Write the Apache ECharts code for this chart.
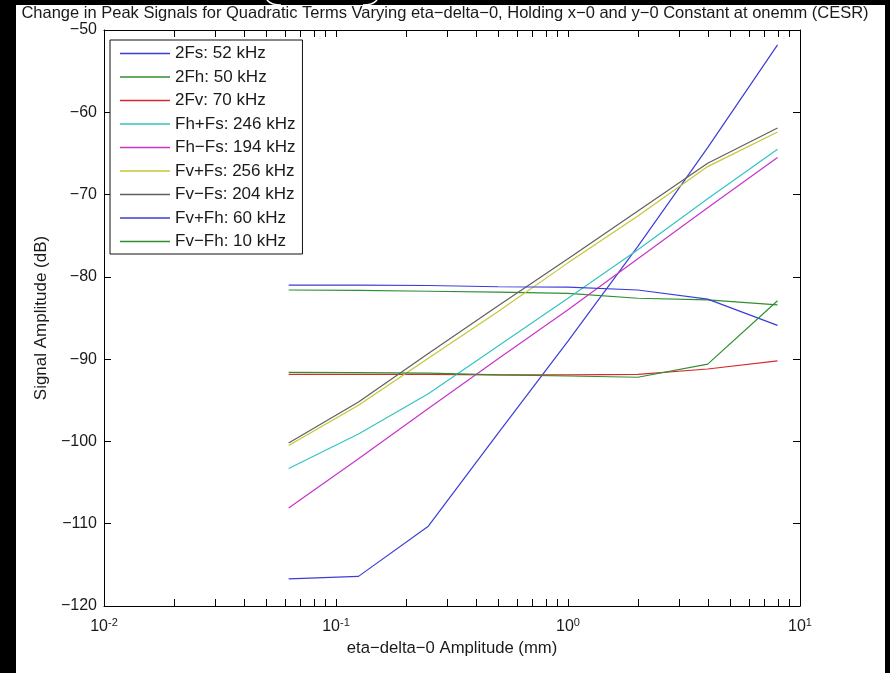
<!DOCTYPE html>
<html>
<head>
<meta charset="utf-8">
<script src="https://cdn.jsdelivr.net/npm/echarts@6/dist/echarts.min.js"></script>
<style>
html,body{margin:0;padding:0;background:#000;}
#chart{width:890px;height:673px;}
</style>
</head>
<body>
<div id="chart"></div>
<script>
// ---- data ----
const xValues = [0.0625, 0.125, 0.25, 0.5, 1, 2, 4, 8];
const seriesNames = ['2Fs: 52 kHz', '2Fh: 50 kHz', '2Fv: 70 kHz', 'Fh+Fs: 246 kHz', 'Fh\u2212Fs: 194 kHz', 'Fv+Fs: 256 kHz', 'Fv\u2212Fs: 204 kHz', 'Fv+Fh: 60 kHz', 'Fv\u2212Fh: 10 kHz'];
const s2Fs   = [-116.7, -116.4, -110.3, -99.0, -87.8, -76.3, -64.3, -51.8];
const s2Fh   = [-81.6, -81.65, -81.75, -81.85, -82.0, -82.6, -82.8, -83.4];
const s2Fv   = [-91.85, -91.85, -91.85, -91.9, -91.9, -91.85, -91.2, -90.2];
const sFhPFs = [-103.3, -99.1, -94.2, -88.4, -82.6, -76.7, -70.5, -64.5];
const sFhMFs = [-108.1, -102.1, -96.0, -89.95, -84.0, -77.8, -71.6, -65.5];
const sFvPFs = [-100.5, -95.6, -89.9, -84.2, -78.3, -72.6, -66.6, -62.4];
const sFvMFs = [-100.2, -95.2, -89.3, -83.5, -77.8, -72.0, -66.2, -61.9];
const sFvPFh = [-81.0, -81.0, -81.05, -81.2, -81.25, -81.6, -82.7, -85.9];
const sFvMFh = [-91.6, -91.65, -91.7, -91.9, -92.05, -92.2, -90.6, -82.9];
const yTicks = [-120, -110, -100, -90, -80, -70, -60, -50];
const xDecades = [0.01, 0.1, 1, 10];
const minorTickX = [0.02,0.03,0.04,0.05,0.06,0.07,0.08,0.09,0.2,0.3,0.4,0.5,0.6,0.7,0.8,0.9,2,3,4,5,6,7,8,9];

const seriesValues = [s2Fs, s2Fh, s2Fv, sFhPFs, sFhMFs, sFvPFs, sFvMFs, sFvPFh, sFvMFh];
const colors = ['#3c3cd8', '#2f8f2f', '#d82a2a', '#35c3c3', '#c834c8', '#c6c634', '#606060', '#3c3cd8', '#2f8f2f'];

const FONT = '"Liberation Sans", Arial, Helvetica, sans-serif';
const TXT = '#1a1a1a';
const GL = 104, GT = 30, GW = 696, GH = 576;
const TICK = 7;

const chart = echarts.init(document.getElementById('chart'), null, {renderer: 'canvas'});

const lineSeries = seriesNames.map((n, i) => ({
  name: n,
  type: 'line',
  xAxisIndex: 0, yAxisIndex: 0,
  data: xValues.map((x, j) => [x, seriesValues[i][j]]),
  showSymbol: false,
  symbol: 'none',
  lineStyle: {color: colors[i], width: 1.2},
  itemStyle: {color: colors[i]},
  z: 3,
  animation: false
}));

const minorTickSeries = {
  type: 'custom',
  xAxisIndex: 0, yAxisIndex: 0,
  silent: true,
  animation: false,
  z: 4,
  data: minorTickX.map(x => [x, yTicks[0]]),
  renderItem: function (params, api) {
    const x = api.value(0);
    const pb = api.coord([x, yTicks[0]]);
    const pt = api.coord([x, yTicks[yTicks.length - 1]]);
    const xx = Math.round(pb[0]) + 0.5;
    return {
      type: 'group',
      children: [
        {type: 'line', shape: {x1: xx, y1: pb[1], x2: xx, y2: pb[1] - TICK}, style: {stroke: '#000', lineWidth: 1}},
        {type: 'line', shape: {x1: xx, y1: pt[1], x2: xx, y2: pt[1] + TICK}, style: {stroke: '#000', lineWidth: 1}}
      ]
    };
  }
};

const option = {
  backgroundColor: '#000',
  animation: false,
  graphic: [
    {type: 'rect', z: -100, shape: {x: 16, y: 5, width: 869, height: 668}, style: {fill: '#fff'}},
    {type: 'bezierCurve', z: -99, shape: {x1: 267, y1: 0, x2: 281, y2: 5, cpx1: 271, cpy1: 5}, style: {stroke: '#fff', fill: null, lineWidth: 1.5}},
    {type: 'bezierCurve', z: -99, shape: {x1: 363, y1: 5, x2: 377, y2: 0, cpx1: 373, cpy1: 5}, style: {stroke: '#fff', fill: null, lineWidth: 1.5}}
  ],
  title: {
    text: 'Change in Peak Signals for Quadratic Terms Varying eta\u2212delta\u22120, Holding x\u22120 and y\u22120 Constant at onemm (CESR)',
    left: 'center', top: 5, padding: 0,
    textStyle: {fontFamily: FONT, fontSize: 16.5, fontWeight: 'normal', color: TXT}
  },
  legend: {
    data: seriesNames,
    orient: 'vertical',
    left: 110, top: 40,
    padding: [5, 7, 4, 10],
    icon: 'rect',
    itemWidth: 50, itemHeight: 1.3, itemGap: 6.5,
    borderColor: '#111', borderWidth: 1,
    backgroundColor: '#fff',
    textStyle: {fontFamily: FONT, fontSize: 17, color: TXT},
    selectedMode: false,
    z: 10
  },
  grid: {left: GL, top: GT, width: GW, height: GH, containLabel: false},
  xAxis: [
    {
      type: 'log', logBase: 10, min: xDecades[0], max: xDecades[xDecades.length - 1],
      position: 'bottom',
      name: 'eta\u2212delta\u22120 Amplitude (mm)',
      nameLocation: 'middle', nameGap: 34,
      nameTextStyle: {fontFamily: FONT, fontSize: 16.7, color: TXT},
      axisLine: {lineStyle: {color: '#000', width: 1}},
      axisTick: {inside: true, length: TICK, lineStyle: {color: '#000'}},
      splitLine: {show: false},
      axisLabel: {
        margin: 11,
        fontFamily: FONT, fontSize: 16, color: TXT,
        formatter: function (v) {
          const e = Math.round(Math.log10(v));
          return '10{sup|' + e + '}';
        },
        rich: {sup: {fontFamily: FONT, fontSize: 11, color: TXT, verticalAlign: 'top', padding: [0, 0, 9, 0]}}
      }
    },
    {
      type: 'log', logBase: 10, min: xDecades[0], max: xDecades[xDecades.length - 1],
      position: 'top',
      axisLine: {lineStyle: {color: '#000', width: 1}},
      axisTick: {inside: true, length: TICK, lineStyle: {color: '#000'}},
      axisLabel: {show: false},
      splitLine: {show: false}
    }
  ],
  yAxis: [
    {
      type: 'value', min: yTicks[0], max: yTicks[yTicks.length - 1], interval: 10,
      position: 'left',
      name: 'Signal Amplitude (dB)',
      nameLocation: 'middle', nameGap: 48, nameRotate: 90,
      nameTextStyle: {fontFamily: FONT, fontSize: 17, color: TXT},
      axisLine: {show: true, lineStyle: {color: '#000', width: 1}},
      axisTick: {show: true, inside: true, length: TICK, lineStyle: {color: '#000'}},
      splitLine: {show: false},
      axisLabel: {
        margin: 7, fontFamily: FONT, fontSize: 16, color: TXT,
        formatter: v => String(v).replace('-', '\u2212')
      }
    },
    {
      type: 'value', min: yTicks[0], max: yTicks[yTicks.length - 1], interval: 10,
      position: 'right',
      axisLine: {show: true, lineStyle: {color: '#000', width: 1}},
      axisTick: {show: true, inside: true, length: TICK, lineStyle: {color: '#000'}},
      axisLabel: {show: false},
      splitLine: {show: false}
    }
  ],
  series: lineSeries.concat([minorTickSeries])
};

chart.setOption(option);
</script>
</body>
</html>
